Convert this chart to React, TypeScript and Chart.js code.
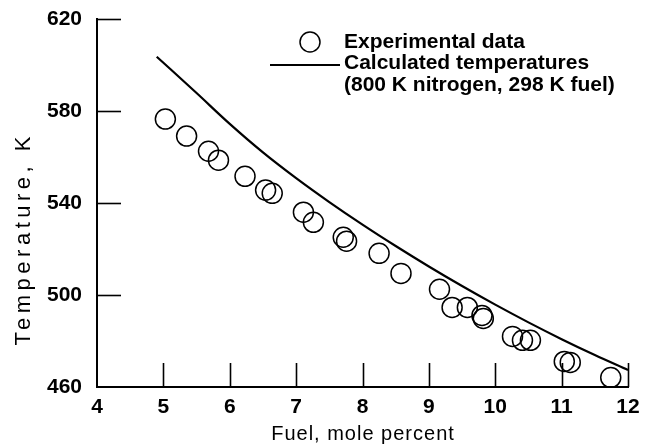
import React, { useEffect, useRef } from "react";
import { Chart, registerables } from "chart.js";

Chart.register(...registerables);

// ---- data ----
const expFuel = [5.03, 5.35, 5.68, 5.83, 6.23, 6.54, 6.64, 7.11, 7.26, 7.71, 7.76, 8.25, 8.58, 9.16, 9.35, 9.58, 9.80, 9.82, 10.26, 10.41, 10.53, 11.04, 11.13, 11.74];
const expTemp = [576.5, 569.1, 562.5, 558.6, 551.6, 545.6, 544.2, 536.0, 531.6, 525.1, 523.4, 518.1, 509.4, 502.5, 494.6, 494.6, 491.1, 489.8, 482.0, 480.3, 480.3, 471.1, 470.7, 464.1];

const calcFuel = [4.9, 5.5, 6.0, 6.5, 7.0, 7.5, 8.0, 8.5, 9.0, 9.5, 10.0, 10.5, 11.0, 11.5, 12.0];
const calcTemp = [603.6, 587.8, 574.4, 562.0, 550.8, 540.4, 530.6, 521.3, 512.4, 503.9, 495.8, 488.1, 480.8, 473.9, 467.4];

const xTicks = [4, 5, 6, 7, 8, 9, 10, 11, 12];
const yTicks = [460, 500, 540, 580, 620];

const legendLabels = ["Experimental data", "Calculated temperatures", "(800 K nitrogen, 298 K fuel)"];
const xTitle = "Fuel, mole percent";
const yTitle = "Temperature, K";

const FONT = "'Liberation Sans', Arial, Helvetica, sans-serif";
const TICK_LEN = 24;

const innerTicks = {
  id: "innerTicks",
  beforeDatasetsDraw(chart: any) {
    const { ctx, scales } = chart;
    const x = scales.x, y = scales.y;
    ctx.save();
    ctx.strokeStyle = "#000";
    ctx.lineWidth = 1.6;
    for (const v of xTicks) {
      if (v === x.min) continue;
      const px = Math.round(x.getPixelForValue(v)) + 0.5;
      ctx.beginPath();
      ctx.moveTo(px, y.bottom);
      ctx.lineTo(px, y.bottom - TICK_LEN);
      ctx.stroke();
    }
    for (const v of yTicks) {
      if (v === y.min) continue;
      const py = Math.round(y.getPixelForValue(v)) + 0.5;
      ctx.beginPath();
      ctx.moveTo(x.left, py);
      ctx.lineTo(x.left + TICK_LEN, py);
      ctx.stroke();
    }
    ctx.restore();
  },
};

function spacedText(ctx: any, text: string, cx: number, cy: number, spacing: number) {
  const hasLS = "letterSpacing" in ctx;
  if (hasLS) ctx.letterSpacing = `${spacing}px`;
  const w = ctx.measureText(text).width - (hasLS ? spacing : 0);
  ctx.textAlign = "left";
  ctx.textBaseline = "middle";
  ctx.fillText(text, cx - w / 2, cy);
  if (hasLS) ctx.letterSpacing = "0px";
}

const titlesPlugin = {
  id: "axisTitles",
  afterDraw(chart: any) {
    const { ctx, scales } = chart;
    const x = scales.x;
    ctx.save();
    ctx.fillStyle = "#000";
    ctx.font = `20px ${FONT}`;
    spacedText(ctx, xTitle, (x.left + x.right) / 2, 434, 1);
    ctx.translate(24, 241);
    ctx.rotate(-Math.PI / 2);
    ctx.font = `22px ${FONT}`;
    spacedText(ctx, yTitle, 0, 0, 4.5);
    ctx.restore();
  },
};

const legendPlugin = {
  id: "customLegend",
  afterDraw(chart: any) {
    const { ctx } = chart;
    ctx.save();
    ctx.strokeStyle = "#000";
    ctx.lineWidth = 1.5;
    ctx.beginPath();
    ctx.arc(310, 42, 10, 0, Math.PI * 2);
    ctx.stroke();
    ctx.lineWidth = 2;
    ctx.beginPath();
    ctx.moveTo(270, 65);
    ctx.lineTo(340, 65);
    ctx.stroke();
    ctx.fillStyle = "#000";
    ctx.font = `bold 21px ${FONT}`;
    ctx.textBaseline = "middle";
    ctx.textAlign = "left";
    ctx.fillText(legendLabels[0], 344, 42);
    ctx.fillText(legendLabels[1], 344, 63);
    ctx.fillText(legendLabels[2], 344, 85);
    ctx.restore();
  },
};

export default function App() {
  const canvasRef = useRef<HTMLCanvasElement | null>(null);

  useEffect(() => {
    const canvas = canvasRef.current;
    if (!canvas) return;
    const chart = new Chart(canvas, {
      type: "scatter",
      data: {
        datasets: [
          {
            label: legendLabels[0],
            data: expFuel.map((f, i) => ({ x: f, y: expTemp[i] })),
            pointStyle: "circle",
            pointRadius: 10,
            pointBorderWidth: 1.5,
            borderColor: "#000",
            backgroundColor: "rgba(0,0,0,0)",
            pointBackgroundColor: "rgba(0,0,0,0)",
            pointBorderColor: "#000",
            showLine: false,
          },
          {
            type: "line",
            label: legendLabels[1],
            data: calcFuel.map((f, i) => ({ x: f, y: calcTemp[i] })),
            borderColor: "#000",
            borderWidth: 2.2,
            pointRadius: 0,
            fill: false,
            cubicInterpolationMode: "monotone",
          } as any,
        ],
      },
      options: {
        responsive: false,
        animation: false,
        events: [],
        layout: { padding: { top: 19, right: 27, left: 0, bottom: 0 } },
        plugins: {
          legend: { display: false },
          tooltip: { enabled: false },
        },
        scales: {
          x: {
            type: "linear",
            min: 4,
            max: 12,
            afterBuildTicks: (s: any) => { s.ticks = xTicks.map((v) => ({ value: v })); },
            afterFit: (s: any) => { s.height = 61; s.paddingLeft = 0; s.paddingRight = 0; },
            grid: { display: false, drawTicks: false },
            border: { display: true, color: "#000", width: 2 },
            ticks: {
              color: "#000",
              font: { family: FONT, size: 21, weight: "bold" },
              padding: 8,
              maxRotation: 0,
              autoSkip: false,
            },
            title: { display: false },
          },
          y: {
            type: "linear",
            min: 460,
            max: 620,
            afterBuildTicks: (s: any) => { s.ticks = yTicks.map((v) => ({ value: v })); },
            afterFit: (s: any) => { s.width = 97; s.paddingTop = 0; s.paddingBottom = 0; },
            grid: { display: false, drawTicks: false },
            border: { display: true, color: "#000", width: 2 },
            ticks: {
              color: "#000",
              font: { family: FONT, size: 21, weight: "bold" },
              padding: 15,
              autoSkip: false,
            },
            title: { display: false },
          },
        },
      },
      plugins: [innerTicks, titlesPlugin, legendPlugin],
    } as any);
    return () => chart.destroy();
  }, []);

  return (
    <div style={{ position: "absolute", left: 0, top: 0, width: 655, height: 448, background: "#fff" }}>
      <canvas ref={canvasRef} width={655} height={448} style={{ display: "block" }} />
    </div>
  );
}
